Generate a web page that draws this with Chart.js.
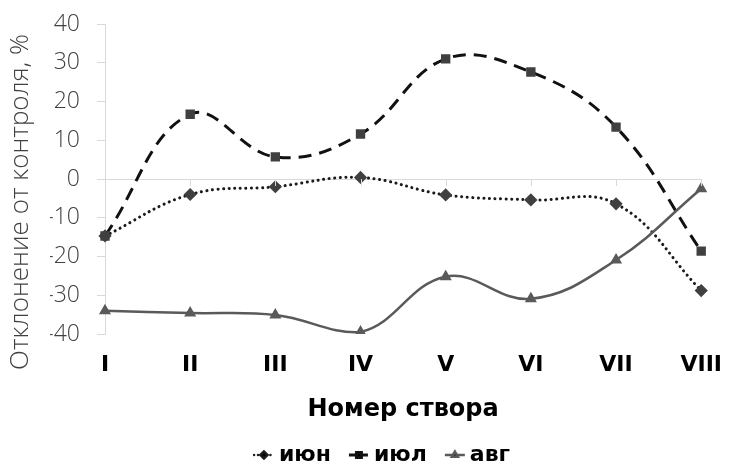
<!DOCTYPE html>
<html>
<head>
<meta charset="utf-8">
<script src="https://cdn.jsdelivr.net/npm/chart.js@4"></script>
<style>
  html, body { margin: 0; background: #fff; }
</style>
</head>
<body>
<canvas id="chart" width="740" height="464"></canvas>
<script>
// створы по течению и отклонение от контроля по месяцам, %
const sites = ['I', 'II', 'III', 'IV', 'V', 'VI', 'VII', 'VIII'];
const jun = [-14.7, -4.0, -2.0, 0.4, -4.1, -5.4, -6.4, -28.8];
const jul = [-14.7, 16.7, 5.7, 11.6, 31.0, 27.6, 13.4, -18.6];
const aug = [-34.0, -34.6, -35.1, -39.5, -25.2, -30.9, -20.9, -2.5];
const yMin = -40, yMax = 40, yStep = 10;

const yTitle = 'Отклонение от контроля, %';
const xTitle = 'Номер створа';

const thinFont = '"Open Sans", sans-serif';
const boldFont = '"DejaVu Sans", sans-serif';
const axisGray = '#d9d9d9';

// small legend sample: a piece of the line with its marker in the middle
function legendIcon(dash, lineColor, width, markStyle, markColor) {
    const c = document.createElement('canvas');
    c.width = 22;
    c.height = 12;
    const ctx = c.getContext('2d');
    ctx.strokeStyle = lineColor;
    ctx.lineWidth = width;
    ctx.lineCap = dash.length && dash[0] < 1 ? 'round' : 'butt';
    ctx.setLineDash(dash);
    ctx.beginPath();
    ctx.moveTo(1, 6);
    ctx.lineTo(21, 6);
    ctx.stroke();
    ctx.setLineDash([]);
    Chart.helpers.drawPoint(ctx, {
        pointStyle: markStyle, radius: 3.5, borderWidth: 1,
        backgroundColor: markColor, borderColor: markColor
    }, 11, 6);
    return c;
}

// zero line tick marks and the rotated value-axis title
const extras = {
    id: 'extras',
    afterDatasetsDraw(chart) {
        const { ctx, scales: { x, y } } = chart;
        const y0 = y.getPixelForValue(0);
        ctx.save();
        ctx.strokeStyle = axisGray;
        ctx.lineWidth = 1;
        x.ticks.forEach((t, i) => {
            const px = Math.round(x.getPixelForTick(i)) + 0.5;
            ctx.beginPath();
            ctx.moveTo(px, y0);
            ctx.lineTo(px, y0 + 7);
            ctx.stroke();
        });
        ctx.restore();
    },
    afterDraw(chart) {
        const { ctx, chartArea } = chart;
        ctx.save();
        ctx.translate(21, (chartArea.top + chartArea.bottom) / 2 + 23);
        ctx.rotate(-Math.PI / 2);
        ctx.font = '300 26px ' + thinFont;
        ctx.fillStyle = '#404040';
        ctx.textAlign = 'center';
        ctx.textBaseline = 'middle';
        ctx.fillText(yTitle, 0, 0);
        ctx.restore();
    }
};

new Chart(document.getElementById('chart').getContext('2d'), {
    type: 'line',
    data: {
        labels: sites,
        datasets: [{
            label: 'июн',
            data: jun,
            order: 2,
            borderColor: '#1a1a1a',
            borderWidth: 3,
            borderDash: [0.1, 5.5],
            borderCapStyle: 'round',
            pointStyle: 'rectRot',
            pointRadius: 4.5,
            pointBackgroundColor: '#404040',
            pointBorderColor: '#404040',
            tension: 0.4
        }, {
            label: 'июл',
            data: jul,
            order: 1,
            borderColor: '#111111',
            borderWidth: 3,
            borderDash: [13, 8],
            pointStyle: 'rect',
            pointRadius: 4.5,
            pointBackgroundColor: '#404040',
            pointBorderColor: '#404040',
            tension: 0.4
        }, {
            label: 'авг',
            data: aug,
            order: 0,
            borderColor: '#5a5a5a',
            borderWidth: 2.5,
            pointStyle: 'triangle',
            pointRadius: 4.5,
            pointBackgroundColor: '#5a5a5a',
            pointBorderColor: '#5a5a5a',
            tension: 0.4
        }]
    },
    options: {
        responsive: false,
        animation: false,
        layout: { padding: { left: 50, right: 20, top: 24, bottom: -12 } },
        plugins: {
            tooltip: { enabled: false },
            legend: {
                position: 'bottom',
                labels: {
                    usePointStyle: true,
                    pointStyleWidth: 8,
                    padding: 24,
                    color: '#000',
                    font: { family: boldFont, size: 22, weight: 'bold', lineHeight: 1 },
                    generateLabels(chart) {
                        const icons = [
                            legendIcon([0.1, 4], '#1a1a1a', 2.5, 'rectRot', '#404040'),
                            legendIcon([7, 5], '#111111', 3, 'rect', '#404040'),
                            legendIcon([], '#5a5a5a', 2.5, 'triangle', '#5a5a5a')
                        ];
                        return chart.data.datasets.map((ds, i) => ({
                            text: ds.label,
                            pointStyle: icons[i],
                            fillStyle: 'transparent',
                            strokeStyle: 'transparent',
                            lineWidth: 0,
                            fontColor: '#000',
                            hidden: false,
                            datasetIndex: i
                        }));
                    }
                }
            }
        },
        scales: {
            x: {
                offset: false,
                grid: { display: false, drawTicks: false },
                border: { display: false },
                ticks: {
                    padding: 18,
                    color: '#000',
                    font: { family: boldFont, size: 22, weight: 'bold' }
                },
                title: {
                    display: true,
                    text: xTitle,
                    color: '#000',
                    padding: { top: 0, bottom: -2 },
                    font: { family: boldFont, size: 24, weight: 'bold', lineHeight: 1 }
                },
                afterFit(scale) { scale.height = 86; }
            },
            y: {
                min: yMin,
                max: yMax,
                border: { display: true, color: axisGray },
                grid: {
                    drawOnChartArea: true,
                    drawTicks: true,
                    tickLength: 8,
                    color: ctx => ctx.tick && ctx.tick.value === 0 ? axisGray : 'transparent',
                    tickColor: axisGray
                },
                ticks: {
                    stepSize: yStep,
                    padding: 17,
                    color: '#404040',
                    font: { family: thinFont, size: 23, weight: 300 }
                },
                afterFit(scale) {
                    scale.width = 55;
                    scale.paddingTop = 0;
                    scale.paddingBottom = 0;
                }
            }
        }
    },
    plugins: [extras]
});
</script>
</body>
</html>
